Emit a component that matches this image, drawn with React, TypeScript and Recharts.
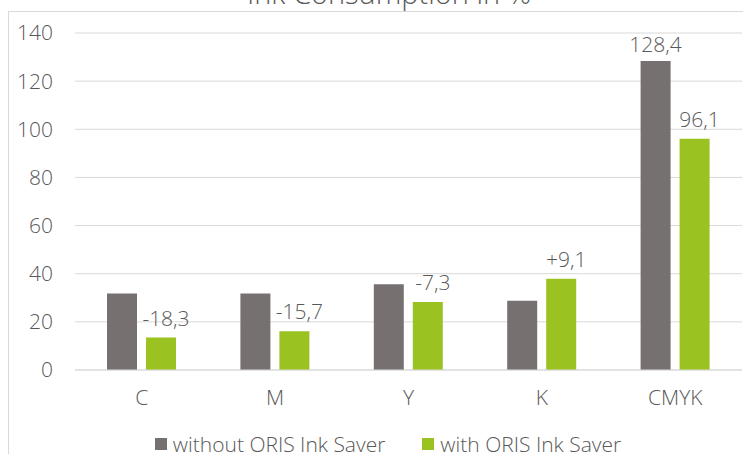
import { Bar, BarChart, CartesianGrid, LabelList, Legend, XAxis, YAxis } from "recharts"

const categories = ["C", "M", "Y", "K", "CMYK"]
const withoutSaver = [31.8, 31.8, 35.6, 28.8, 128.4]
const withSaver = [13.5, 16.1, 28.3, 37.9, 96.1]
const withoutLabels = ["", "", "", "", "128,4"]
const withLabels = ["-18,3", "-15,7", "-7,3", "+9,1", "96,1"]
const yTicks = [0, 20, 40, 60, 80, 100, 120, 140]
const seriesNames = ["without ORIS Ink Saver", "with ORIS Ink Saver"]

const data = categories.map((c, i) => ({
  name: c,
  without: withoutSaver[i],
  with: withSaver[i],
  withoutLabel: withoutLabels[i],
  withLabel: withLabels[i],
}))

const FONT = "'Open Sans', sans-serif"
const TEXT = "#595959"
const GRAY = "#767170"
const GREEN = "#9AC220"
const colors = [GRAY, GREEN]

function LegendContent() {
  return (
    <div style={{ display: "flex", justifyContent: "center", paddingLeft: 34, paddingTop: 16, fontFamily: FONT, fontWeight: 300, fontSize: 21, color: TEXT }}>
      {seriesNames.map((n, i) => (
        <div key={n} style={{ display: "flex", alignItems: "center", marginRight: i === 0 ? 37 : 0 }}>
          <span style={{ width: 12, height: 12, background: colors[i], display: "inline-block", marginRight: 6 }} />
          <span style={{ whiteSpace: "nowrap" }}>{n}</span>
        </div>
      ))}
    </div>
  )
}

export default function App() {
  return (
    <div style={{ position: "absolute", left: 0, top: 0, width: 743, height: 454, overflow: "hidden", background: "#fff" }}>
      <div style={{ position: "absolute", left: 8, top: 11, width: 800, height: 500, borderLeft: "1px solid #d9d9d9", borderTop: "1px solid #d9d9d9" }} />
      <div style={{ position: "absolute", left: 0, width: 778, top: -27, textAlign: "center", fontFamily: FONT, fontWeight: 300, fontSize: 29, color: TEXT, lineHeight: "40px", whiteSpace: "nowrap" }}>
        Ink Consumption in %
      </div>
      <BarChart
        width={743}
        height={454}
        data={data}
        margin={{ top: 33, right: 1, left: 0, bottom: 0 }}
        barGap={9}
        barSize={30}
        style={{ position: "absolute", left: 0, top: 0 }}
      >
        <CartesianGrid vertical={false} stroke="#d9d9d9" />
        <XAxis
          dataKey="name"
          height={44}
          axisLine={{ stroke: "#d9d9d9" }}
          tickLine={false}
          tickMargin={14}
          tick={{ fill: TEXT, fontSize: 21, fontFamily: FONT, fontWeight: 300 }}
        />
        <YAxis
          width={75}
          domain={[0, 140]}
          ticks={yTicks}
          axisLine={false}
          tickLine={false}
          tickMargin={16}
          tick={{ fill: TEXT, fontSize: 21, fontFamily: FONT, fontWeight: 300 }}
        />
        <Legend verticalAlign="bottom" height={40} content={<LegendContent />} />
        <Bar dataKey="without" name={seriesNames[0]} fill={GRAY} isAnimationActive={false}>
          <LabelList dataKey="withoutLabel" position="top" offset={9} fill={TEXT} fontSize={21} fontFamily={FONT} fontWeight={300} />
        </Bar>
        <Bar dataKey="with" name={seriesNames[1]} fill={GREEN} isAnimationActive={false}>
          <LabelList dataKey="withLabel" position="top" offset={12} dx={5} fill={TEXT} fontSize={21} fontFamily={FONT} fontWeight={300} />
        </Bar>
      </BarChart>
    </div>
  )
}
